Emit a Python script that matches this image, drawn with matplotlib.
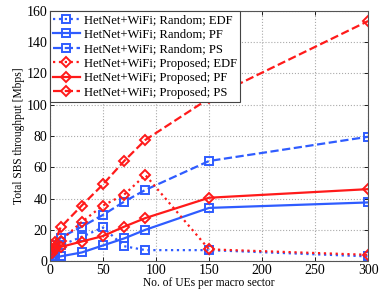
"""SBS throughput vs number of UEs"""
import matplotlib

matplotlib.use("Agg")
import matplotlib.pyplot as plt

plt.rcParams["font.family"] = ["Liberation Serif", "DejaVu Serif"]
plt.rcParams["mathtext.fontset"] = "stix"

UES = [2, 5, 10, 30, 50, 70, 90, 150, 300]

RANDOM_EDF = [3, 6, 10, 15.5, 21.5, 9.5, 7, 7, 3]
RANDOM_PF = [1.5, 2.5, 3, 5.5, 10, 14.5, 20, 34, 37.5]
RANDOM_PS = [5, 10, 15, 22, 29.5, 38, 45.5, 64, 79.5]
PROPOSED_EDF = [5, 8, 13, 25, 35.5, 42.5, 55, 7.5, 4]
PROPOSED_PF = [7, 8.5, 9, 12.5, 16, 22, 27.5, 40.5, 46]
PROPOSED_PS = [10, 12.5, 21.5, 35.5, 49, 64, 77.5, 104, 153.5]

LABELS = [
    "HetNet+WiFi; Random; EDF",
    "HetNet+WiFi; Random; PF",
    "HetNet+WiFi; Random; PS",
    "HetNet+WiFi; Proposed; EDF",
    "HetNet+WiFi; Proposed; PF",
    "HetNet+WiFi; Proposed; PS",
]

BLUE = "#2f5cff"
RED = "#ff1a1a"

fig = plt.figure(figsize=(3.9, 2.94), dpi=100)
ax = fig.add_axes([0.128, 0.112, 0.816, 0.851])

series = [
    (RANDOM_EDF, BLUE, ":", "s"),
    (RANDOM_PF, BLUE, "-", "s"),
    (RANDOM_PS, BLUE, "--", "s"),
    (PROPOSED_EDF, RED, ":", "D"),
    (PROPOSED_PF, RED, "-", "D"),
    (PROPOSED_PS, RED, "--", "D"),
]
for (values, color, style, marker), label in zip(series, LABELS):
    ax.plot(
        UES, values, color=color, linestyle=style, linewidth=1.6,
        marker=marker, markersize=6 if marker == "s" else 5.5,
        markerfacecolor="none", markeredgewidth=1.4, label=label,
    )

ax.set_xlim(0, 300)
ax.set_ylim(0, 160)
ax.set_xticks([0, 50, 100, 150, 200, 250, 300])
ax.set_yticks(range(0, 161, 20))
ax.grid(True, linestyle=":", color="#aaaaaa", linewidth=0.8)
ax.tick_params(direction="in", top=True, right=True, labelsize=10, length=3, width=0.6, pad=2)
for spine in ax.spines.values():
    spine.set_color("#555555")
    spine.set_linewidth(0.8)

ax.set_xlabel("No. of UEs per macro sector", fontsize=8.3, labelpad=0)
ax.set_ylabel("Total SBS throughput [Mbps]", fontsize=8.3, labelpad=1)

leg = ax.legend(
    loc="upper left", fontsize=9.1, borderaxespad=0.0, handlelength=2.1,
    labelspacing=0.2, borderpad=0.25, handletextpad=0.35, fancybox=False,
    framealpha=1,
)
leg.get_frame().set_edgecolor("#444444")
leg.get_frame().set_linewidth(0.8)

fig.savefig("out.png", dpi=100)
